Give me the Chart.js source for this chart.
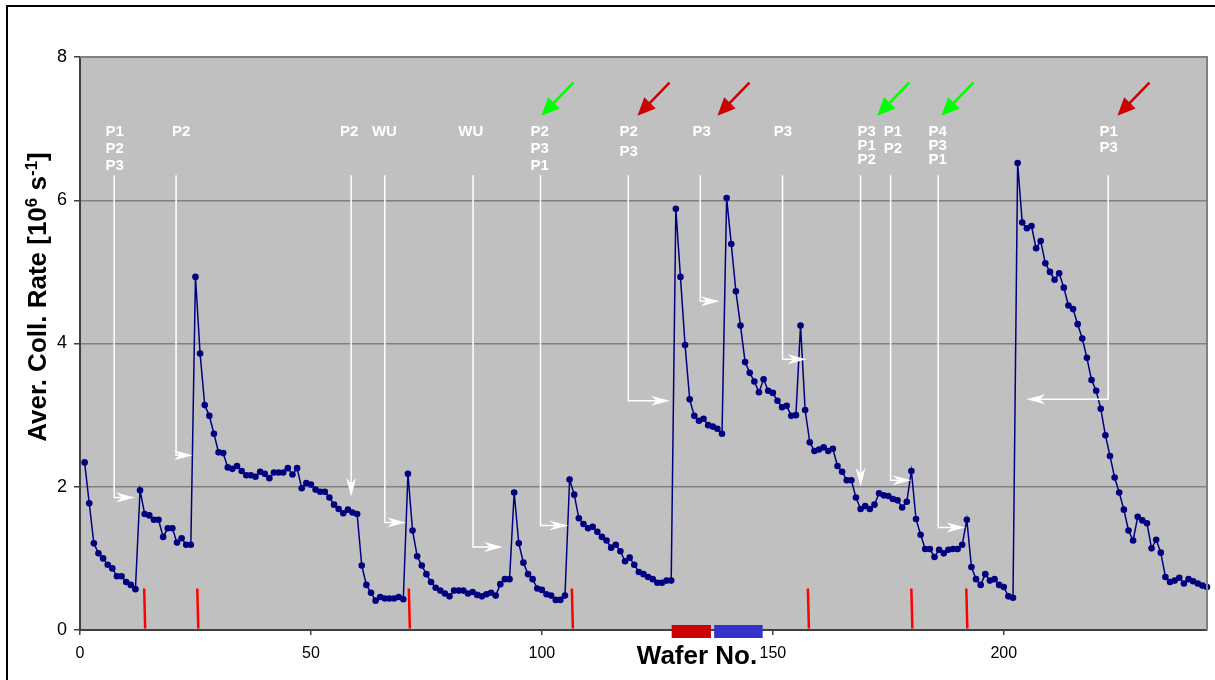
<!DOCTYPE html>
<html>
<head>
<meta charset="utf-8">
<script src="https://cdn.jsdelivr.net/npm/chart.js@4.4.1/dist/chart.umd.min.js"></script>
<style>
  body { margin: 0; background: #fff; }
  canvas { display: block; }
</style>
</head>
<body>
<canvas id="waferChart" width="1215" height="680"></canvas>
<script>
// Average collision rate per wafer, wafers 1..244
const rate = [
    2.34, 1.77, 1.21, 1.07, 1.00, 0.91, 0.86, 0.75, 0.75, 0.67,   // 1-10
    0.63, 0.57, 1.95, 1.62, 1.60, 1.54, 1.54, 1.30, 1.42, 1.42,   // 11-20
    1.22, 1.28, 1.19, 1.19, 4.93, 3.86, 3.14, 2.99, 2.74, 2.48,   // 21-30
    2.47, 2.27, 2.25, 2.29, 2.22, 2.16, 2.16, 2.14, 2.21, 2.18,   // 31-40
    2.12, 2.20, 2.20, 2.20, 2.26, 2.17, 2.26, 1.98, 2.05, 2.03,   // 41-50
    1.96, 1.93, 1.93, 1.85, 1.75, 1.69, 1.63, 1.68, 1.64, 1.62,   // 51-60
    0.90, 0.63, 0.52, 0.41, 0.46, 0.44, 0.44, 0.44, 0.46, 0.43,   // 61-70
    2.18, 1.39, 1.03, 0.90, 0.78, 0.67, 0.59, 0.55, 0.51, 0.47,   // 71-80
    0.55, 0.55, 0.55, 0.51, 0.53, 0.49, 0.47, 0.50, 0.52, 0.48,   // 81-90
    0.64, 0.71, 0.71, 1.92, 1.21, 0.94, 0.78, 0.71, 0.58, 0.56,   // 91-100
    0.50, 0.48, 0.42, 0.42, 0.48, 2.10, 1.89, 1.56, 1.48, 1.42,   // 101-110
    1.44, 1.37, 1.30, 1.25, 1.15, 1.19, 1.10, 0.96, 1.01, 0.91,   // 111-120
    0.81, 0.78, 0.74, 0.71, 0.66, 0.66, 0.69, 0.69, 5.88, 4.93,   // 121-130
    3.98, 3.22, 2.99, 2.92, 2.95, 2.86, 2.84, 2.81, 2.74, 6.03,   // 131-140
    5.39, 4.73, 4.25, 3.74, 3.59, 3.47, 3.32, 3.50, 3.34, 3.31,   // 141-150
    3.20, 3.11, 3.13, 2.99, 3.00, 4.25, 3.07, 2.62, 2.50, 2.52,   // 151-160
    2.55, 2.50, 2.53, 2.29, 2.21, 2.09, 2.09, 1.85, 1.69, 1.73,   // 161-170
    1.69, 1.75, 1.91, 1.88, 1.87, 1.83, 1.81, 1.71, 1.79, 2.22,   // 171-180
    1.55, 1.33, 1.13, 1.13, 1.02, 1.12, 1.07, 1.12, 1.13, 1.13,   // 181-190
    1.19, 1.54, 0.88, 0.71, 0.63, 0.78, 0.69, 0.71, 0.63, 0.60,   // 191-200
    0.47, 0.45, 6.52, 5.69, 5.61, 5.64, 5.33, 5.43, 5.12, 5.00,   // 201-210
    4.89, 4.98, 4.78, 4.53, 4.48, 4.27, 4.07, 3.80, 3.49, 3.34,   // 211-220
    3.09, 2.72, 2.43, 2.13, 1.92, 1.68, 1.39, 1.25, 1.58, 1.53,   // 221-230
    1.49, 1.14, 1.26, 1.08, 0.74, 0.67, 0.69, 0.73, 0.65, 0.71,   // 231-240
    0.68, 0.65, 0.62, 0.60                                        // 241-244
];

const xTicks = [0, 50, 100, 150, 200];
const yTicks = [0, 2, 4, 6, 8];

// White call-outs: label, wafer of the drop line, where it ends, where the arrow points
const noteText = [['P1','P2','P3'], ['P2'], ['P2'], ['WU'], ['WU'], ['P2','P3','P1'], ['P2','P3'],
                  ['P3'], ['P3'], ['P3','P1','P2'], ['P1','P2'], ['P4','P3','P1'], ['P1','P3']];
const noteLabelX = [7.5, 21.9, 58.3, 65.9, 84.6, 99.5, 118.8, 134.6, 152.2, 170.3, 176.0, 185.7, 222.7];
const noteLineX  = [7.4, 20.8, 58.7, 66.0, 85.1, 99.7, 118.7, 134.3, 152.1, 169.0, 175.5, 185.8, 222.6];
const noteEndY   = [1.85, 2.44, 1.86, 1.50, 1.16, 1.46, 3.20, 4.59, 3.78, 2.00, 2.09, 1.43, 3.22];
const noteTipX   = [11.9, 24.4, null, 70.6, 91.6, 105.7, 127.7, 138.5, 157.3, null, 180.0, 191.7, 204.9];
const noteGap    = [17, 17, 17, 17, 17, 17, 20, 17, 17, 14, 17, 14, 16];

// Coloured flags above the call-outs
const flagX = [99.9, 120.7, 138.0, 172.6, 186.5, 224.6];
const flagColor = ['#00ff00', '#cc0000', '#cc0000', '#00ff00', '#00ff00', '#cc0000'];

// Red marks on the axis and the two blocks under it
const markX = [14.0, 25.5, 71.3, 106.6, 157.7, 180.1, 192.0];
const blockFrom = [128.1, 137.3];
const blockTo = [136.6, 147.8];
const blockColor = ['#cc0000', '#3333cc'];

const FONT = "'Liberation Sans', Arial, sans-serif";

function stealth(ctx, x, y, dx, dy) {
    const L = 19, W = 5, N = 13;
    const px = -dy, py = dx;
    ctx.beginPath();
    ctx.moveTo(x, y);
    ctx.lineTo(x - dx * L + px * W, y - dy * L + py * W);
    ctx.lineTo(x - dx * N, y - dy * N);
    ctx.lineTo(x - dx * L - px * W, y - dy * L - py * W);
    ctx.closePath();
    ctx.fill();
}

const deco = {
    id: 'deco',
    beforeDraw(chart) {
        const { ctx, chartArea: a } = chart;
        ctx.save();
        ctx.fillStyle = '#fff';
        ctx.fillRect(0, 0, chart.width, chart.height);
        ctx.fillStyle = '#c0c0c0';
        ctx.fillRect(a.left, a.top, a.right - a.left, a.bottom - a.top);
        // outer frame
        ctx.strokeStyle = '#000';
        ctx.lineWidth = 2;
        ctx.beginPath();
        ctx.moveTo(7, 700);
        ctx.lineTo(7, 6);
        ctx.lineTo(1240, 6);
        ctx.stroke();
        ctx.restore();
    },
    afterDatasetsDraw(chart) {
        const { ctx, chartArea: a } = chart;
        const xs = chart.scales.x, ys = chart.scales.y;
        ctx.save();

        // plot border top/right
        ctx.strokeStyle = '#808080';
        ctx.lineWidth = 2;
        ctx.beginPath();
        ctx.moveTo(a.left, a.top);
        ctx.lineTo(a.right, a.top);
        ctx.lineTo(a.right, a.bottom);
        ctx.stroke();

        // white call-outs
        ctx.strokeStyle = '#fff';
        ctx.fillStyle = '#fff';
        ctx.lineWidth = 1.5;
        const yStart = ys.getPixelForValue(6.35);
        const yText = ys.getPixelForValue(6.96);
        ctx.font = 'bold 15px ' + FONT;
        ctx.textAlign = 'center';
        ctx.textBaseline = 'middle';
        noteText.forEach((lines, i) => {
            const lx = xs.getPixelForValue(noteLineX[i]);
            const ly = ys.getPixelForValue(noteEndY[i]);
            const tx = xs.getPixelForValue(noteLabelX[i]);
            lines.forEach((t, j) => ctx.fillText(t, tx, yText + j * noteGap[i]));
            ctx.beginPath();
            ctx.moveTo(lx, yStart);
            if (noteTipX[i] === null) {
                ctx.lineTo(lx, ly - 12);
                ctx.stroke();
                stealth(ctx, lx, ly, 0, 1);
            } else {
                const tip = xs.getPixelForValue(noteTipX[i]);
                const dir = tip > lx ? 1 : -1;
                ctx.lineTo(lx, ly);
                ctx.lineTo(tip - dir * 12, ly);
                ctx.stroke();
                stealth(ctx, tip, ly, dir, 0);
            }
        });

        // coloured flags
        const fy = ys.getPixelForValue(7.18);
        flagX.forEach((v, i) => {
            const x = xs.getPixelForValue(v);
            const x0 = x + 32, y0 = fy - 33;
            const len = Math.hypot(x0 - x, y0 - fy);
            const dx = (x - x0) / len, dy = (fy - y0) / len;
            ctx.strokeStyle = flagColor[i];
            ctx.fillStyle = flagColor[i];
            ctx.lineWidth = 2.5;
            ctx.beginPath();
            ctx.moveTo(x0, y0);
            ctx.lineTo(x - dx * 12, fy - dy * 12);
            ctx.stroke();
            const hx = x - dx * 18, hy = fy - dy * 18;
            ctx.beginPath();
            ctx.moveTo(x, fy);
            ctx.lineTo(hx - dy * 8, hy + dx * 8);
            ctx.lineTo(hx + dy * 8, hy - dx * 8);
            ctx.closePath();
            ctx.fill();
        });

        // red marks at the bottom
        ctx.strokeStyle = '#ff0000';
        ctx.lineWidth = 2.5;
        markX.forEach(v => {
            const x = xs.getPixelForValue(v);
            ctx.beginPath();
            ctx.moveTo(x - 0.5, ys.getPixelForValue(0.58));
            ctx.lineTo(x + 0.5, ys.getPixelForValue(0.02));
            ctx.stroke();
        });
        ctx.restore();
    },
    afterDraw(chart) {
        const { ctx, chartArea: a } = chart;
        const xs = chart.scales.x;
        ctx.save();
        blockFrom.forEach((v, i) => {
            const x0 = xs.getPixelForValue(v), x1 = xs.getPixelForValue(blockTo[i]);
            ctx.fillStyle = blockColor[i];
            ctx.fillRect(x0, a.bottom - 5, x1 - x0, 13);
        });

        // axis titles
        ctx.fillStyle = '#000';
        ctx.font = 'bold 26px ' + FONT;
        ctx.textAlign = 'center';
        ctx.textBaseline = 'middle';
        ctx.fillText('Wafer No.', 697, 657);

        ctx.translate(37, 297);
        ctx.rotate(-Math.PI / 2);
        const parts = [['Aver. Coll. Rate [10', 26, 0], ['6', 17, -9], [' s', 26, 0], ['-1', 17, -9], [']', 26, 0]];
        let total = 0;
        parts.forEach(p => { ctx.font = 'bold ' + p[1] + 'px ' + FONT; total += ctx.measureText(p[0]).width; });
        let cx = -total / 2;
        ctx.textAlign = 'left';
        ctx.textBaseline = 'alphabetic';
        parts.forEach(p => {
            ctx.font = 'bold ' + p[1] + 'px ' + FONT;
            ctx.fillText(p[0], cx, 9 + p[2]);
            cx += ctx.measureText(p[0]).width;
        });
        ctx.restore();
    }
};

new Chart(document.getElementById('waferChart'), {
    type: 'line',
    data: {
        datasets: [{
            data: rate.map((v, i) => ({ x: i + 1, y: v })),
            borderColor: '#000080',
            borderWidth: 1.5,
            pointRadius: 3.3,
            pointBackgroundColor: '#000080',
            pointBorderWidth: 0,
            tension: 0,
            clip: 5
        }]
    },
    options: {
        responsive: false,
        animation: false,
        layout: { padding: { top: 57, right: 8, left: 0, bottom: 0 } },
        plugins: { legend: { display: false }, tooltip: { enabled: false } },
        scales: {
            x: {
                type: 'linear',
                min: 0,
                max: 244,
                afterBuildTicks: s => { s.ticks = xTicks.map(v => ({ value: v })); },
                afterFit: s => { s.height = 50; },
                ticks: { font: { size: 16, family: FONT }, color: '#000', padding: 9, maxRotation: 0 },
                grid: { drawOnChartArea: false, tickLength: 5, color: '#404040', lineWidth: 1.5 },
                border: { color: '#404040', width: 2 }
            },
            y: {
                min: 0,
                max: 8,
                afterBuildTicks: s => { s.ticks = yTicks.map(v => ({ value: v })); },
                afterFit: s => { s.width = 80; },
                ticks: { font: { size: 18, family: FONT }, color: '#000', padding: 7 },
                grid: { color: '#808080', lineWidth: 1.5, tickLength: 6, tickColor: '#404040' },
                border: { color: '#404040', width: 2 }
            }
        }
    },
    plugins: [deco]
});
</script>
</body>
</html>
